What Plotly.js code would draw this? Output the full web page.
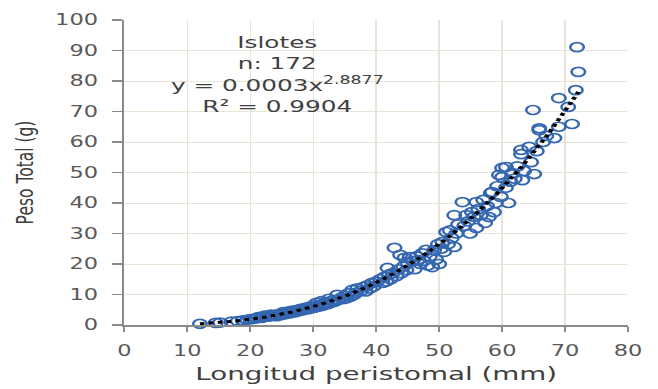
<!DOCTYPE html>
<html>
<head>
<meta charset="utf-8">
<script src="https://cdn.plot.ly/plotly-3.0.1.min.js"></script>
<style>
  html, body { margin: 0; padding: 0; background: #ffffff; }
  #wrap { width: 658px; height: 389px; overflow: hidden; }
  #chart { width: 439px; height: 389px; transform: scaleX(1.4989); transform-origin: 0 0; }
</style>
</head>
<body>
<div id="wrap"><div id="chart"></div></div>
<script>
// Longitud peristomal (mm)
const longitud = [
  12.0,14.5,15.2,17.0,18.0,18.8,19.5,20.0,20.5,21.0,21.3,21.8,22.0,22.3,22.8,23.0,23.3,23.8,24.0,24.2,24.5,24.8,25.0,25.2,25.5,25.8,26.0,26.2,26.5,26.8,
  27.0,27.2,27.5,27.8,28.0,28.2,28.5,28.8,29.0,29.2,29.5,29.8,30.0,30.2,30.5,30.8,31.0,31.3,31.5,31.8,32.0,32.3,32.5,32.8,33.0,33.4,33.8,34.0,34.5,34.8,
  35.0,35.3,35.6,35.9,36.2,36.5,36.8,37.0,37.6,38.0,38.3,38.6,39.0,39.3,39.6,40.0,40.6,41.0,41.3,41.6,41.8,42.0,42.3,42.6,42.9,43.2,43.5,43.8,44.0,44.3,44.5,44.8,45.0,
  45.3,45.8,46.1,46.4,46.7,47.0,47.3,47.6,47.9,48.2,48.5,48.9,49.2,49.5,49.8,50.0,50.3,50.5,50.8,51.1,51.4,51.7,52.0,52.4,52.4,52.7,53.0,53.7,54.0,54.3,54.6,54.9,55.2,55.5,
  55.9,55.9,56.2,56.6,57.0,57.3,57.6,57.9,58.2,58.4,58.7,59.0,59.2,59.5,59.8,60.0,60.0,60.6,60.6,61.0,61.3,61.6,62.0,62.4,63.0,63.0,63.2,63.5,64.3,64.6,64.9,65.1,65.5,65.9,65.9,
  66.5,67.0,68.3,69.0,69.0,70.5,71.1,71.7,72.1,71.9
];
// Peso Total (g)
const peso = [
  0.4,0.7,0.8,1.1,1.3,1.5,1.7,1.9,2.0,2.2,2.6,2.3,2.6,3.1,2.7,2.9,3.4,3.0,3.3,2.9,3.6,3.2,3.7,4.2,3.5,4.0,4.4,3.8,4.6,4.1,
  4.7,4.2,5.0,4.6,5.3,4.8,5.5,5.1,5.8,5.2,6.0,5.5,6.4,5.7,7.3,6.0,6.6,7.8,6.3,7.0,7.5,6.8,8.6,7.3,8.0,7.6,9.9,8.3,9.0,8.5,
  9.6,8.8,10.4,9.3,11.5,9.9,10.6,12.0,11.2,12.5,11.0,13.0,12.0,13.8,12.6,14.2,15.0,13.8,15.8,14.3,18.7,16.5,15.0,17.0,25.3,16.0,18.2,23.0,17.0,19.2,22.0,18.0,20.3,
  22.3,21.0,18.3,22.5,21.3,20.0,23.5,21.0,24.6,19.5,22.5,19.0,24.5,21.5,26.5,20.0,25.0,27.2,24.0,30.5,26.5,31.0,28.5,36.0,25.6,30.0,33.0,40.3,32.5,36.0,34.0,30.0,37.0,35.5,
  40.3,31.8,38.0,36.0,41.0,33.5,39.0,35.4,43.3,43.6,37.0,40.0,45.5,49.2,42.0,51.5,48.5,45.0,51.8,40.0,47.0,49.8,48.0,52.0,57.4,56.0,47.5,50.5,58.4,53.4,70.5,49.5,57.0,63.9,64.5,
  60.0,62.0,61.3,74.4,65.0,71.5,65.9,77.0,83.0,91.1
];
const xTicks = [0,10,20,30,40,50,60,70,80];
const yTicks = [0,10,20,30,40,50,60,70,80,90,100];
const labelLines = ['Islotes', 'n: 172', 'y = 0.0003x<sup>2.8877</sup>', 'R² = 0.9904'];
const xTitle = 'Longitud peristomal (mm)';
const yTitle = 'Peso Total (g)';

// Power trendline (least squares in log-log space, as a spreadsheet does)
function powerFit(xs, ys) {
  let n = xs.length, sx = 0, sy = 0, sxx = 0, sxy = 0;
  for (let i = 0; i < n; i++) {
    const lx = Math.log(xs[i]), ly = Math.log(ys[i]);
    sx += lx; sy += ly; sxx += lx * lx; sxy += lx * ly;
  }
  const b = (n * sxy - sx * sy) / (n * sxx - sx * sx);
  const a = Math.exp((sy - b * sx) / n);
  return { a, b };
}
const fit = powerFit(longitud, peso);
const xMin = Math.min(...longitud), xMax = Math.max(...longitud);
const trendX = [], trendY = [];
for (let i = 0; i <= 120; i++) {
  const x = xMin + (xMax - xMin) * i / 120;
  trendX.push(x);
  trendY.push(fit.a * Math.pow(x, fit.b));
}

const axisGray = '#8a8a8a';
const tickFont = { family: 'DejaVu Sans', size: 15, color: '#595959' };

const data = [
  {
    x: longitud, y: peso, type: 'scatter', mode: 'markers', cliponaxis: false,
    marker: { symbol: 'circle-open', size: 9, color: '#3566b0', line: { width: 1.7, color: '#3566b0' } },
    hoverinfo: 'x+y', showlegend: false
  },
  {
    x: trendX, y: trendY, type: 'scatter', mode: 'lines', cliponaxis: false,
    line: { color: '#000000', width: 3, dash: 'dot' },
    hoverinfo: 'skip', showlegend: false
  }
];

const layout = {
  width: 439, height: 389,
  margin: { l: 83, r: 20, t: 20, b: 64, pad: 0 },
  paper_bgcolor: '#ffffff', plot_bgcolor: '#ffffff',
  showlegend: false,
  xaxis: {
    range: [0, 80], tickvals: xTicks, ticktext: xTicks.map(String),
    showgrid: true, gridcolor: '#e7e4d8', gridwidth: 1, zeroline: false,
    showline: true, linecolor: axisGray, linewidth: 1.6,
    ticks: 'outside', ticklen: 5, tickwidth: 1.3, tickcolor: axisGray,
    tickfont: tickFont, ticklabelstandoff: 6,
    title: { text: xTitle, font: { family: 'DejaVu Sans', size: 18.5, color: '#404040' }, standoff: 8 }
  },
  yaxis: {
    range: [0, 100], tickvals: yTicks, ticktext: yTicks.map(String),
    showgrid: true, gridcolor: '#e7e4d8', gridwidth: 1, zeroline: false,
    showline: true, linecolor: axisGray, linewidth: 1.6,
    ticks: 'outside', ticklen: 7, tickwidth: 1.3, tickcolor: axisGray,
    tickfont: tickFont, ticklabelstandoff: 6,
    title: { text: yTitle, font: { family: 'DejaVu Sans', size: 15.5, color: '#404040' }, standoff: 10 }
  },
  annotations: [{
    xref: 'x', yref: 'y', x: 24.4, y: 96.5, xanchor: 'center', yanchor: 'top',
    text: labelLines.join('<br>'), align: 'center', showarrow: false,
    font: { family: 'DejaVu Sans', size: 16.5, color: '#404040' }
  }]
};

Plotly.newPlot('chart', data, layout, { staticPlot: true, displayModeBar: false });
</script>
</body>
</html>
